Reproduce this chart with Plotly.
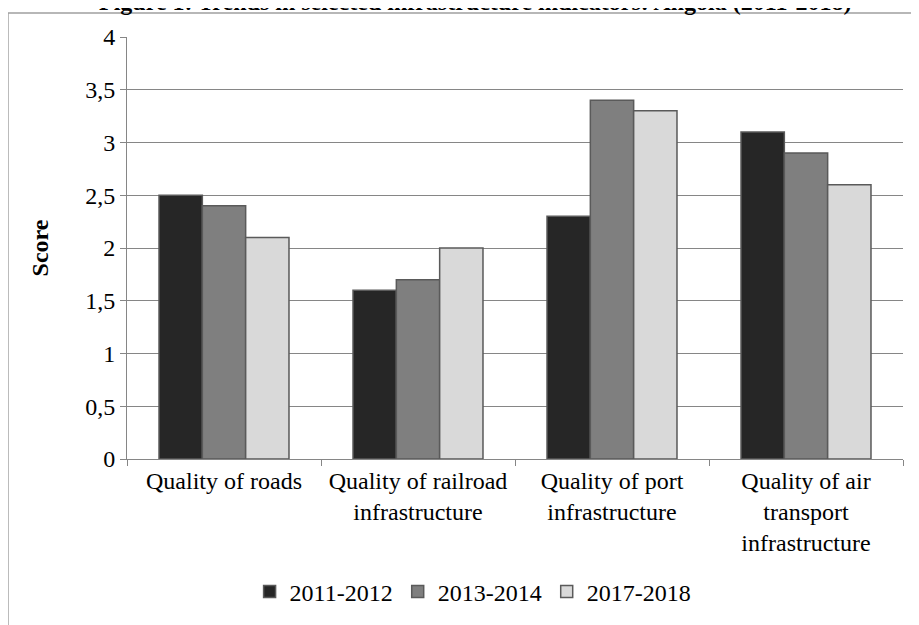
import plotly.graph_objects as go

categories = ["Quality of roads", "Quality of railroad<br>infrastructure",
              "Quality of port<br>infrastructure", "Quality of air<br>transport<br>infrastructure"]
series_names = ["2011-2012", "2013-2014", "2017-2018"]
v_2011 = [2.5, 1.6, 2.3, 3.1]
v_2013 = [2.4, 1.7, 3.4, 2.9]
v_2017 = [2.1, 2.0, 3.3, 2.6]
colors = ["#262626", "#7f7f7f", "#d9d9d9"]
y_ticks = [0, 0.5, 1, 1.5, 2, 2.5, 3, 3.5, 4]

fig = go.Figure()
for name, vals, c in zip(series_names, [v_2011, v_2013, v_2017], colors):
    fig.add_trace(go.Bar(x=categories, y=vals, name=name, marker=dict(color=c, line=dict(color="#5a5a5a", width=1.5))))

font_family = "'Liberation Serif', 'Times New Roman', Times, serif"
fs = 24
fig.update_layout(
    width=919, height=625,
    barmode="group", bargap=0.33, bargroupgap=0,
    separators=", ",
    plot_bgcolor="white", paper_bgcolor="white",
    margin=dict(l=119, r=24, t=29, b=174),
    font=dict(family=font_family, size=fs, color="black"),
    showlegend=True,
    legend=dict(orientation="h", x=0.446, xanchor="center", y=-0.315, yanchor="middle",
                font=dict(family=font_family, size=fs), itemwidth=30, traceorder="normal"),
    xaxis=dict(type="category", tickson="boundaries", ticks="outside", ticklen=6, tickcolor="#868686",
               showline=True, linecolor="#868686", linewidth=1, showgrid=False,
               tickfont=dict(family=font_family, size=fs)),
    yaxis=dict(range=[0, 4], tickvals=y_ticks, ticks="outside", ticklen=6, tickcolor="#868686",
               showline=True, linecolor="#868686", linewidth=1, showgrid=True, gridcolor="#868686",
               gridwidth=1, zeroline=False,
               title=dict(text="<b>Score</b>", font=dict(family=font_family, size=fs), standoff=29),
               tickfont=dict(family=font_family, size=fs)),
)
fig.add_annotation(text="<b>Figure 1: Trends in selected infrastructure indicators: Angola (2011-2018)</b>",
                   xref="paper", yref="paper", x=0.448, y=1.083, xanchor="center", yanchor="middle",
                   showarrow=False, font=dict(family=font_family, size=fs))
fig.add_shape(type="rect", xref="paper", yref="paper", x0=-0.1534, y0=-1, x1=2, y1=1.0569,
              line=dict(color="#a0a0a0", width=1.5), fillcolor="rgba(0,0,0,0)", layer="below")
fig.write_html("out.html")
